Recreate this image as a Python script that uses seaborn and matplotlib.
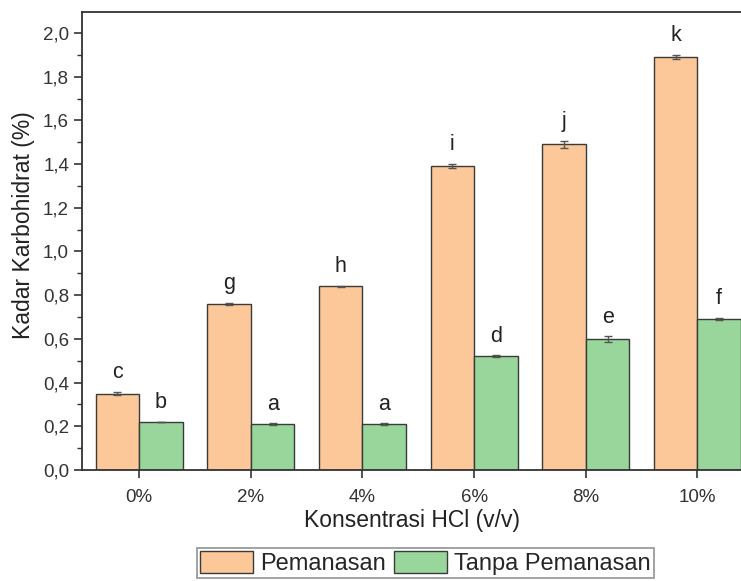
import pandas as pd
import numpy as np
import matplotlib
matplotlib.use('Agg')
import matplotlib.pyplot as plt
import seaborn as sns
from matplotlib.ticker import FuncFormatter, MultipleLocator

# data
konsentrasi = ['0%', '2%', '4%', '6%', '8%', '10%']
pemanasan = [0.35, 0.76, 0.84, 1.39, 1.49, 1.89]
pemanasan_err = [0.008, 0.006, 0.004, 0.010, 0.016, 0.009]
pemanasan_huruf = ['c', 'g', 'h', 'i', 'j', 'k']
tanpa = [0.22, 0.21, 0.21, 0.52, 0.60, 0.69]
tanpa_err = [0.002, 0.004, 0.004, 0.005, 0.012, 0.005]
tanpa_huruf = ['b', 'a', 'a', 'd', 'e', 'f']
kelompok = ['Pemanasan', 'Tanpa Pemanasan']

df = pd.DataFrame({
    'HCl': konsentrasi * 2,
    'Kadar': pemanasan + tanpa,
    'Perlakuan': [kelompok[0]] * 6 + [kelompok[1]] * 6,
})

sns.set_style('ticks')
plt.rcParams['font.family'] = ['Liberation Sans', 'DejaVu Sans']

fig = plt.figure(figsize=(7.41, 5.81), dpi=100)
ax = fig.add_axes([0.111, 0.191, 0.889, 0.788])

warna = ['#fcc799', '#99d69b']
sns.barplot(data=df, x='HCl', y='Kadar', hue='Perlakuan', order=konsentrasi,
            hue_order=kelompok, palette=warna, width=0.78, errorbar=None,
            edgecolor='#3a3a3a', linewidth=1.0, saturation=1, ax=ax)

errs = [pemanasan_err, tanpa_err]
hurufs = [pemanasan_huruf, tanpa_huruf]
for cont, err, huruf in zip(ax.containers, errs, hurufs):
    xs = [p.get_x() + p.get_width() / 2 for p in cont.patches]
    ys = [p.get_height() for p in cont.patches]
    ax.errorbar(xs, ys, yerr=err, fmt='none', ecolor='#555555',
                elinewidth=1.0, capsize=3, capthick=1.0)
    for x, y, e, h in zip(xs, ys, err, huruf):
        ax.text(x, y + e + 0.04, h, ha='center', va='bottom', fontsize=15.5,
                color='#222222')

ax.set_ylim(0, 2.095)
ax.set_xlim(-0.51, 5.39)
ax.yaxis.set_major_locator(MultipleLocator(0.2))
ax.yaxis.set_minor_locator(MultipleLocator(0.1))
ax.yaxis.set_major_formatter(FuncFormatter(lambda v, p: f'{v:.1f}'.replace('.', ',')))
ax.tick_params(axis='both', which='major', labelsize=13.5, length=6, width=1.2,
               color='#333333', labelcolor='#333333')
ax.tick_params(axis='x', which='major', pad=8)
ax.tick_params(axis='y', which='minor', length=3.5, width=1.0, color='#333333')

for s in ['left', 'bottom', 'top']:
    ax.spines[s].set_visible(True)
    ax.spines[s].set_linewidth(1.3)
    ax.spines[s].set_color('#333333')
ax.spines['right'].set_visible(False)

ax.set_xlabel('Konsentrasi HCl (v/v)', fontsize=16.5, color='#222222', labelpad=2)
ax.set_ylabel('Kadar Karbohidrat (%)', fontsize=16.5, color='#222222')
ax.yaxis.set_label_coords(-0.071, 0.535)

ax.legend_.remove()
handles = ax.containers[0].patches[:1] + ax.containers[1].patches[:1]
leg = fig.legend(handles, kelompok, loc='center', bbox_to_anchor=(0.574, 0.031),
                 ncol=2, fontsize=17, frameon=True, fancybox=False,
                 edgecolor='#777777', handlelength=2.25, handleheight=1.1,
                 handletextpad=0.3, columnspacing=0.34, borderpad=0.12,
                 borderaxespad=0)
leg.get_frame().set_linewidth(1.2)

plt.savefig('out.png', dpi=100)
